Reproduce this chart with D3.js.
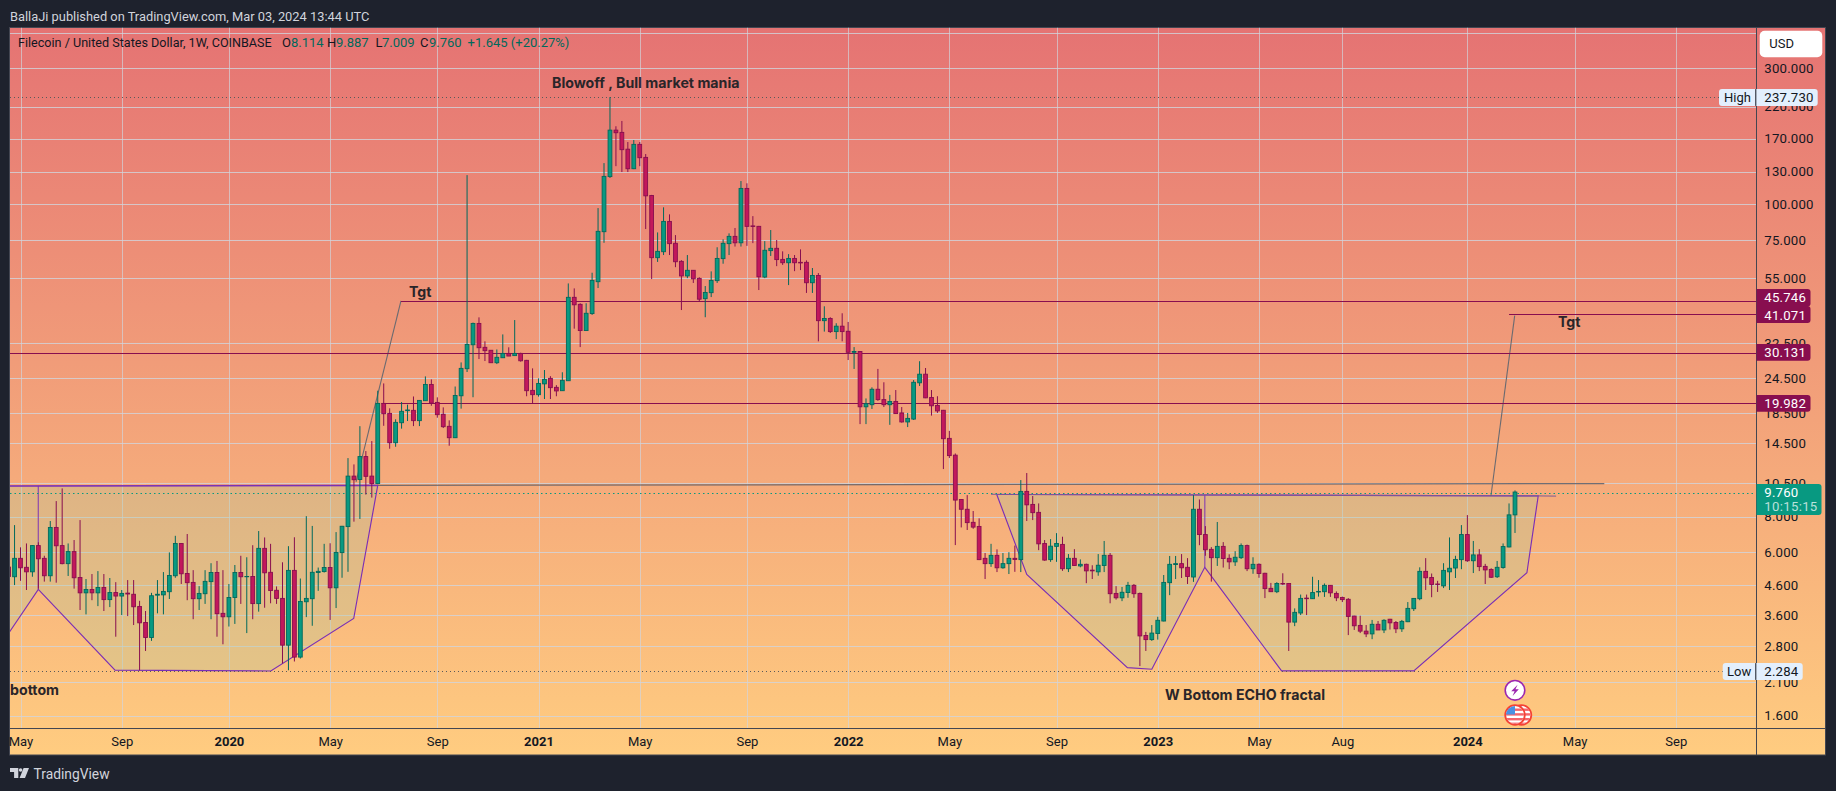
<!DOCTYPE html>
<html><head><meta charset="utf-8">
<script src="https://cdn.jsdelivr.net/npm/d3@7"></script>
<style>html,body{margin:0;padding:0;background:#1e222d;overflow:hidden}svg{display:block}text{font-family:Roboto,sans-serif}</style>
</head><body><svg id="c" width="1836" height="791"></svg>
<script>
const firstWeek = "2019-04-22";
const opens = [
5.32,4.92,5.71,5.31,5.12,6.33,5.71,4.96,7.33,6.33,
5.47,6.03,4.89,4.32,4.44,4.32,4.51,4.09,4.33,4.21,
4.31,4.27,3.87,3.40,3.01,4.24,4.25,4.36,4.96,6.44,
5.05,4.70,4.12,4.29,4.73,5.09,3.66,3.56,4.16,5.09,
4.92,4.93,3.96,6.19,5.10,4.41,4.13,2.83,5.18,2.57,
4.02,4.12,5.09,5.13,5.30,4.50,5.98,7.38,11.10,10.8,
13.0,11.10,10.45,19.98,18.43,14.54,17.09,18.84,18.89,17.38,
20.42,23.29,20.14,18.29,16.6,15.14,21.25,26.45,32.1,38.14,
31.44,30.7,27.76,28.9,29.93,29.4,29.93,28.3,22.2,21.44,
23.4,24.46,22.75,22.14,24.0,47.1,44.5,36.0,41.3,53.44,
80.06,125.0,182,178.7,156,133.2,162.2,146,107.3,64.9,
68.1,87,72.9,63,56,58.6,54.9,46.6,48.9,53.9,
64.4,72.7,77.1,73.2,113.6,83.9,83.6,55.5,68.7,70,
64,62.3,64.5,62.5,62.5,53,56.2,39,39.7,35.7,
37.3,35.8,30.2,30.4,19.44,19.77,22.4,20.6,19.77,20.3,
18.5,17.2,17.6,23.6,25.3,20.95,19.65,18.9,15.06,13.15,
9.19,8.49,7.64,7.39,5.71,5.47,5.85,5.29,5.47,5.71,
5.65,9.81,8.83,8.28,6.44,5.65,6.29,6.39,5.25,5.71,
5.37,5.44,5.19,5.12,5.39,5.85,4.3,4.15,4.33,4.59,
4.3,3.06,2.96,3.11,3.44,4.69,5.43,5.47,5.31,4.91,
8.49,6.92,6.14,5.74,6.29,5.71,5.55,5.74,6.33,5.25,
5.44,5.06,4.48,4.36,4.66,4.66,3.41,3.67,4.14,4.12,
4.35,4.36,4.59,4.3,4.16,4.1,3.58,3.32,3.17,3.1,
3.35,3.2,3.49,3.4,3.23,3.42,3.8,4.12,5.14,4.89,
4.64,4.57,5.12,5.28,5.65,6.92,5.6,5.87,5.35,5.22,
4.92,5.3,6.26,8.114];
const highs = [
5.63,7.47,6.24,6.44,6.35,6.5,5.83,7.72,9.07,10.05,
6.44,6.62,7.78,4.83,5.03,5.15,5.03,4.87,4.71,4.42,
4.79,4.79,4.05,3.73,4.32,4.79,5.11,5.99,6.85,6.46,
6.95,5.19,4.56,5.19,5.49,5.59,5.19,4.64,5.41,5.83,
5.76,6.35,7.12,6.76,6.42,4.55,5.53,6.30,6.77,4.85,
8.03,7.42,5.30,6.42,6.45,7.06,7.42,12.84,12.2,16.62,
13.59,14.74,22.14,23.48,19.2,17.57,20.2,19.78,21.13,20.53,
24.85,24.26,20.98,19.35,17.42,22.9,27.83,126.5,38.4,40.06,
33.0,30.76,30.9,34.9,31.44,39.2,30.1,28.4,26.52,24.46,
26.17,24.9,23.16,25.7,52.7,50.63,44.9,44.9,57.46,96.9,
139.4,237.7,187.8,196,165.3,168,165.3,150,107.8,79.6,
97.5,92.1,77.9,63.6,66.3,58.7,55.4,51.6,58.1,70.6,
75.3,79,82.5,120.6,118.4,90.8,83.9,74.2,81.15,74.85,
68.3,66.8,66.3,69.4,63.5,59.7,57.3,43.8,40.1,38.2,
41.4,38.6,31.5,30.5,20.8,22.75,26.4,23.7,21.4,22.26,
19.4,18.5,24.13,28.1,26.6,22.26,21.17,18.95,16,13.33,
9.2,9.52,8.37,7.89,5.96,6.42,6.14,5.96,6.0,6.33,
10.75,11.38,9.45,8.9,6.62,6.67,7,6.8,5.91,6.15,
5.66,5.47,5.4,5.91,6.57,5.96,4.56,4.53,4.72,4.64,
4.33,3.15,3.33,3.56,4.99,5.82,5.82,5.91,5.72,9.52,
9.19,7.41,6.25,7.66,6.51,5.9,6.05,6.44,6.38,5.76,
5.48,5.08,4.68,4.71,5.06,4.67,3.81,4.26,4.26,4.92,
4.79,4.66,4.6,4.37,4.19,4.14,3.59,3.59,3.33,3.47,
3.44,3.49,3.5,3.44,3.47,4.01,4.14,5.31,5.72,5.05,
4.76,5.49,6.76,5.83,7.47,8.1,6.57,6.15,5.46,5.27,
5.59,6.44,8.9,9.887];
const lows = [
4.42,4.60,4.76,4.42,4.92,4.47,4.73,4.73,4.69,5.44,
4.95,4.47,3.76,3.63,4.07,3.88,3.73,3.85,3.03,3.61,
3.58,3.33,2.31,2.70,2.93,3.66,3.63,4.11,4.88,4.64,
4.07,3.49,3.76,3.95,3.49,3.03,2.85,3.29,3.36,3.95,
3.12,3.49,3.71,3.83,3.97,3.95,2.44,2.31,2.48,2.54,
3.55,3.31,4.39,5.09,3.47,3.82,4.88,5.12,7.68,7.85,
9.56,9.33,10.4,16.67,13.85,14.07,16.29,17.33,16.63,16.63,
20.4,19.6,17.8,16.37,14.19,15.1,19.15,25.75,21.0,28.6,
28.14,27.7,27.46,28.85,29.3,29.35,28.0,21.17,19.98,21.1,
20.7,20.7,21.17,22.1,23.95,36.56,31.5,35.9,40.85,50.77,
73.2,123.6,136,129.7,129.7,132.8,136,81.8,54.6,62.7,
66.3,66.3,60.1,42.5,55,52.9,45.6,40.1,47.2,52.9,
61.8,66.3,71,71,71.4,73,49.96,55,65.8,60.6,
61.2,52,58.2,58.7,48.8,48.8,33,35.7,35.3,33.6,
33,28.37,26.4,16.9,16.9,19.1,20.4,19.4,16.8,18.35,
17.1,16.5,17.47,23,20.85,18.1,18.5,11.75,12.85,6.355,
7.33,7.18,7.25,5.63,4.83,5.33,5.11,5.25,5.03,5.12,
5.11,7.72,7.78,6.1,5.6,5.55,5.55,5.16,5.11,5.37,
5.31,4.67,4.83,4.96,5.11,3.97,4.09,4.04,4.15,4.15,
2.39,2.7,2.93,2.96,3.43,4.24,4.83,4.87,4.64,4.72,
6.35,5.83,4.73,5.37,5.3,5.23,5.37,5.68,5.15,5.04,
4.88,4.14,4.35,4.31,4.6,2.7,3.3,3.61,3.61,4.11,
4.19,4.18,4.18,4.04,4.01,3.07,3.2,3.12,3.02,2.97,
3.2,3.12,3.21,3.12,3.15,3.41,3.73,4.07,4.42,4.17,
4.35,4.49,4.42,4.87,5.23,5.55,5.07,5.15,4.64,4.87,
4.87,5.25,6.24,7.009];
const closes = [
4.93,5.71,5.29,5.12,6.33,5.69,4.96,7.33,6.32,5.47,
6.03,4.88,4.32,4.44,4.32,4.51,4.09,4.33,4.21,4.30,
4.28,3.86,3.39,3.01,4.22,4.27,4.37,4.97,6.44,5.04,
4.69,4.12,4.30,4.74,5.09,3.65,3.56,4.16,5.09,4.92,
4.93,3.96,6.19,5.08,4.40,4.13,2.83,5.18,2.57,4.03,
4.13,5.10,5.14,5.30,4.50,5.99,7.40,11.10,10.78,13.0,
11.08,10.45,19.98,18.38,14.54,17.14,18.74,18.94,17.38,20.47,
23.29,20.03,18.24,16.55,15.14,21.3,26.52,32.18,38.14,31.34,
30.6,27.76,29.0,29.93,29.3,29.93,28.2,22.14,21.44,23.48,
24.26,22.69,22.1,24.07,47.1,44.34,36.0,41.4,54.0,80.3,
125.2,182,178.2,155.4,133.2,162.2,145.6,107,64.9,68.3,
87.0,72.7,62.8,56,58.6,54.7,46.4,49,54,64.5,
72.9,77.1,73.2,113.6,83.6,83.5,55.6,68.9,70,63.9,
62.3,64.5,62.3,62.2,53,56.2,39,39.7,35.7,37.3,
35.7,30.2,30.4,19.44,19.93,22.4,20.6,19.77,20.3,18.4,
17.2,17.7,23.7,25.3,20.9,19.6,18.8,15.02,13.1,9.146,
8.49,7.62,7.35,5.65,5.47,5.85,5.29,5.47,5.71,5.66,
9.81,8.8,8.26,6.42,5.63,6.3,6.44,5.25,5.71,5.39,
5.44,5.16,5.16,5.4,5.85,4.29,4.15,4.34,4.59,4.29,
3.05,2.96,3.12,3.46,4.7,5.44,5.47,5.29,4.93,8.49,
6.92,6.12,5.74,6.29,5.7,5.55,5.76,6.33,5.25,5.44,
5.05,4.47,4.36,4.66,4.64,3.41,3.69,4.13,4.12,4.33,
4.37,4.59,4.32,4.15,4.09,3.57,3.31,3.17,3.1,3.35,
3.2,3.46,3.39,3.23,3.43,3.81,4.13,5.14,4.88,4.62,
4.62,5.18,5.27,5.66,6.92,5.6,5.87,5.34,5.2,4.9,
5.31,6.28,8.114,9.76];
const priceTicks = [300,220,170,130,100,75,55,32.5,24.5,18.5,14.5,10.5,8,6,4.6,3.6,2.8,2.1,1.6];
const gridOnlyTicks = [400];
const timeTickDates = ["2019-05-06","2019-09-02","2020-01-06","2020-05-04","2020-09-07","2021-01-04","2021-05-03","2021-09-06","2022-01-03","2022-05-02","2022-09-05","2023-01-02","2023-05-01","2023-08-07","2024-01-01","2024-05-06","2024-09-02"];
const timeTickLabels = ["May","Sep","2020","May","Sep","2021","May","Sep","2022","May","Sep","2023","May","Aug","2024","May","Sep"];
const levels = [45.746,41.071,30.131,19.982];
const levelStartWeek = [65.9,252,-1,62.6];
const highPrice = 237.73, lowPrice = 2.284, lastPrice = 9.76;
// drawings: [week number since firstWeek, price]
const tgtLeft = [[58.35,10.6],[65.9,45.746]];
const tgtRight = [[248.96,9.45],[252.95,40.6]];
const neckLeft = [[-1,10.25],[62,10.3]];
const neckGray = [[62,10.3],[268,10.45]];
const wBottom1 = [[-1,10.25],[62,10.3],[57.96,3.51],[44.04,2.296],[17.87,2.314],[4.99,4.44],[-1,2.9]];
const wBottom2 = [[165.96,9.57],[256.9,9.46],[255,5.08],[236,2.30],[213.8,2.30],[200.9,5.31],[192,2.33],[187.9,2.36],[171,5.01]];
const stem1 = [[4.99,10.25],[4.99,4.44]];
const stem2 = [[200.9,9.52],[200.9,5.31]];
const neck2Ext = [[165,9.58],[165.96,9.57],[256.9,9.46],[259.9,9.44]];

const WEEK = 7*864e5;
const parse = d3.utcParse("%Y-%m-%d");
const t0 = parse(firstWeek);
const dateOf = w => new Date(+t0 + w*WEEK);
const x = d3.scaleUtc().domain([t0, dateOf(253)]).range([8.6,1515]);
const y = d3.scaleLog().domain([1.6,300]).range([715.7,68.3]);
const X = w => x(dateOf(w));
const L = 10, R = 1756.5, T = 27.5, B = 728.5, RR = 1825.5, BB = 755;
const UP = "#089981", UPB = "#00695c", DN = "#c2185b", DNB = "#880e4f", PUR = "#7b2fb5";
const snap = v => Math.floor(v)+.5;

const svg = d3.select("#c");
const defs = svg.append("defs");
const g = defs.append("linearGradient").attr("id","bg").attr("x1",0).attr("x2",0).attr("y1",0).attr("y2",1);
g.append("stop").attr("offset",0).attr("stop-color","#e57373");
g.append("stop").attr("offset",1).attr("stop-color","#ffcc80");
defs.append("clipPath").attr("id","plot").append("rect").attr("x",L).attr("y",T).attr("width",R-L).attr("height",B-T);
defs.append("clipPath").attr("id","flag").append("circle").attr("cx",0).attr("cy",0).attr("r",9);

svg.append("rect").attr("x",L-.5).attr("y",T).attr("width",RR-L+.5).attr("height",BB-T).attr("fill","url(#bg)").attr("stroke","#434651");

svg.append("text").attr("x",10).attr("y",20.5).attr("fill","#d1d4dc").attr("font-size",12.85).text("BallaJi published on TradingView.com, Mar 03, 2024 13:44 UTC");

const plot = svg.append("g").attr("clip-path","url(#plot)");
// grid
plot.append("g").selectAll("line").data(gridOnlyTicks.concat(priceTicks)).join("line")
 .attr("x1",L).attr("x2",R).attr("y1",d=>Math.round(y(d))+.5).attr("y2",d=>Math.round(y(d))+.5)
 .attr("stroke","#d1d4dc").attr("stroke-opacity",.8);
plot.append("g").selectAll("line").data(timeTickDates).join("line")
 .attr("y1",T).attr("y2",B).attr("x1",d=>Math.round(x(parse(d)))+.5).attr("x2",d=>Math.round(x(parse(d)))+.5)
 .attr("stroke","#d1d4dc").attr("stroke-opacity",.68);

const ln = d3.line().x(d=>X(d[0])).y(d=>y(d[1]));
// pattern fills
[wBottom1,wBottom2].forEach(p=>plot.append("path").attr("d",ln(p)+"Z").attr("fill","rgb(163,202,158)").attr("fill-opacity",.27).attr("stroke",PUR).attr("stroke-width",1.15));
[stem1,stem2].forEach(p=>plot.append("path").attr("d",ln(p)).attr("fill","none").attr("stroke",PUR).attr("stroke-opacity",.75).attr("stroke-width",1.3));
plot.append("path").attr("d",ln(neckLeft)).attr("fill","none").attr("stroke",PUR).attr("stroke-opacity",.8).attr("stroke-width",1.4);
plot.append("path").attr("d",ln(neckGray)).attr("fill","none").attr("stroke","#5d5d66").attr("stroke-opacity",.85).attr("stroke-width",1.2);
plot.append("path").attr("d",ln(neck2Ext)).attr("fill","none").attr("stroke","#7e5a96").attr("stroke-opacity",.8).attr("stroke-width",1.2);
[tgtLeft,tgtRight].forEach(p=>plot.append("path").attr("d",ln(p)).attr("fill","none").attr("stroke","#6a6a70").attr("stroke-width",1.1));
// horizontal levels
plot.append("g").selectAll("line").data(levels).join("line")
 .attr("x1",(d,i)=>X(levelStartWeek[i])).attr("x2",R)
 .attr("y1",d=>Math.round(y(d))+.5).attr("y2",d=>Math.round(y(d))+.5)
 .attr("stroke",DNB).attr("stroke-width",1);
// high/low/last
plot.append("g").selectAll("line").data([highPrice,lowPrice]).join("line")
 .attr("x1",L).attr("x2",R).attr("y1",d=>snap(y(d))).attr("y2",d=>snap(y(d)))
 .attr("stroke","#5a5a5a").attr("stroke-dasharray","1 3");
plot.append("line").attr("x1",L).attr("x2",R).attr("y1",snap(y(lastPrice))+1).attr("y2",snap(y(lastPrice))+1)
 .attr("stroke",UP).attr("stroke-width",1).attr("stroke-dasharray","1.5 3");
// candles
const idx = d3.range(closes.length);
const col = i => closes[i]>=opens[i];
plot.append("g").selectAll("line").data(idx).join("line")
 .attr("x1",i=>X(i)).attr("x2",i=>X(i)).attr("y1",i=>y(highs[i])).attr("y2",i=>y(lows[i]))
 .attr("stroke",i=>col(i)?UPB:DNB).attr("stroke-width",1);
plot.append("g").selectAll("rect").data(idx).join("rect")
 .attr("x",i=>X(i)-1.9).attr("width",3.8)
 .attr("y",i=>y(Math.max(opens[i],closes[i])))
 .attr("height",i=>Math.abs(y(opens[i])-y(closes[i])))
 .attr("fill",i=>col(i)?UP:DN).attr("stroke",i=>col(i)?UPB:DNB).attr("stroke-width",.9);

// annotation text
const note = (t,px,py)=>plot.append("text").attr("x",px).attr("y",py).attr("font-weight",700).attr("font-size",14.2).attr("fill","#2a2529").attr("style","font-family:Inter").text(t);
note("Blowoff , Bull market mania",552,88);
note("Tgt",409,297);
note("Tgt",1558,327);
note("bottom",10,695);
note("W Bottom ECHO fractal",1165,700);

// legend
const leg = (t,px,c,fs)=>svg.append("text").attr("x",px).attr("y",47).attr("font-size",fs||13).attr("fill",c).text(t);
leg("Filecoin / United States Dollar, 1W, COINBASE",18,"#131722",12.6);
[["O","8.114",282,291],["H","9.887",327,336],["L","7.009",375.5,382],["C","9.760",420,429]].forEach(d=>{leg(d[0],d[2],"#131722");leg(d[1],d[3],"#00695c");});
leg("+1.645 (+20.27%)",467.6,"#00695c");

// axes
svg.append("line").attr("x1",R).attr("x2",R).attr("y1",T).attr("y2",BB).attr("stroke","#434651");
svg.append("line").attr("x1",L).attr("x2",RR).attr("y1",B).attr("y2",B).attr("stroke","#434651");
const ya = svg.append("g").attr("transform",`translate(${R},0)`)
 .call(d3.axisRight(y).tickValues(priceTicks).tickSize(0).tickPadding(7.8).tickFormat(d=>d.toFixed(3)));
ya.select(".domain").remove();
ya.selectAll("text").attr("font-size",13.2).attr("font-family","Roboto").attr("fill","#131722").attr("letter-spacing",".2");
const xa = svg.append("g").attr("transform",`translate(0,${B})`)
 .call(d3.axisBottom(x).tickValues(timeTickDates.map(parse)).tickSize(0).tickPadding(8).tickFormat((d,i)=>timeTickLabels[i]));
xa.select(".domain").remove();
xa.selectAll("text").attr("font-size",13).attr("font-family","Roboto").attr("fill","#131722")
 .attr("font-weight",(d,i)=>/^\d/.test(timeTickLabels[i])?700:400);

// USD button
svg.append("rect").attr("x",1759.7).attr("y",30.7).attr("width",62.6).attr("height",26.6).attr("rx",5).attr("fill","#fff");
svg.append("text").attr("x",1769.3).attr("y",48).attr("font-size",13).attr("fill","#131722").text("USD");

// price tags
const tag = (txt,cy,top,h)=>{
 svg.append("path").attr("d",`M${R} ${top}h51a3 3 0 0 1 3 3v${h-6}a3 3 0 0 1-3 3h-51z`).attr("fill",DNB);
 svg.append("text").attr("x",R+7.8).attr("y",cy+4.6).attr("font-size",13.2).attr("letter-spacing",".2").attr("fill","#fff").text(txt);
};
tag(levels[0].toFixed(3),297.7,289,17.5);
tag(levels[1].toFixed(3),315,306,17);
tag(levels[2].toFixed(3),y(levels[2]),344,16.8);
tag(levels[3].toFixed(3),y(levels[3]),395,16.8);

// last price
svg.append("path").attr("d",`M${R} 484h62a3 3 0 0 1 3 3v25a3 3 0 0 1-3 3h-62z`).attr("fill",UP);
svg.append("text").attr("x",R+7.8).attr("y",497).attr("font-size",13.2).attr("letter-spacing",".2").attr("fill","#fff").text(lastPrice.toFixed(3));
svg.append("text").attr("x",R+7.8).attr("y",511.3).attr("font-size",13.2).attr("letter-spacing",".3").attr("fill","#fff").attr("fill-opacity",.72).text("10:15:15");

// high/low tags
const hl = (name,v,x0,x1,tx)=>{
 const cy = snap(y(v));
 svg.append("rect").attr("x",x0).attr("y",cy-8.4).attr("width",x1-x0).attr("height",16.8).attr("rx",3).attr("fill","#e3effd");
 svg.append("line").attr("x1",R-.7).attr("x2",R-.7).attr("y1",cy-8.4).attr("y2",cy+8.4).attr("stroke","#131722");
 svg.append("text").attr("x",tx).attr("y",cy+4.4).attr("font-size",13).attr("fill","#131722").text(name);
 svg.append("text").attr("x",R+7.8).attr("y",cy+4.6).attr("font-size",13.2).attr("letter-spacing",".2").attr("fill","#131722").text(v.toFixed(3));
};
hl("High",highPrice,1719,1817.7,1724);
hl("Low",lowPrice,1722.7,1802.7,1727);

// event icons
const ev = svg.append("g").attr("transform",`translate(${X(253)},690.3)`);
ev.append("circle").attr("r",9.8).attr("fill","#fff").attr("stroke","#9c27b0").attr("stroke-width",1.6);
ev.append("path").attr("d","M2.6 -5.6L-3.8 1H-0.4L-2.4 5.6L3.8 -1H0.4Z").attr("fill","#9c27b0");
const flag = (cx)=>{
 const f = svg.append("g").attr("transform",`translate(${cx},715)`);
 f.append("circle").attr("r",9.8).attr("fill","#fff").attr("stroke","#f44336").attr("stroke-width",1.8);
 const c = f.append("g").attr("clip-path","url(#flag)");
 [-6.5,-1.8,3,7.6].forEach(v=>c.append("rect").attr("x",-10).attr("width",20).attr("y",v).attr("height",2.4).attr("fill","#f4646b"));
 c.append("rect").attr("x",-10).attr("y",-10).attr("width",10).attr("height",9.5).attr("fill","#4a90e2");
};
flag(X(253)+6.5); flag(X(253));

// footer
svg.append("path").attr("d","M10 768h8.3v10h-4.2v-6H10zM23.6 768h5.4l-4 10h-5.4z").attr("fill","#d1d4dc");
svg.append("circle").attr("cx",20.6).attr("cy",770).attr("r",1.8).attr("fill","#d1d4dc");
svg.append("text").attr("x",33.6).attr("y",779).attr("font-size",13.8).attr("fill","#d1d4dc").text("TradingView");
</script></body></html>
